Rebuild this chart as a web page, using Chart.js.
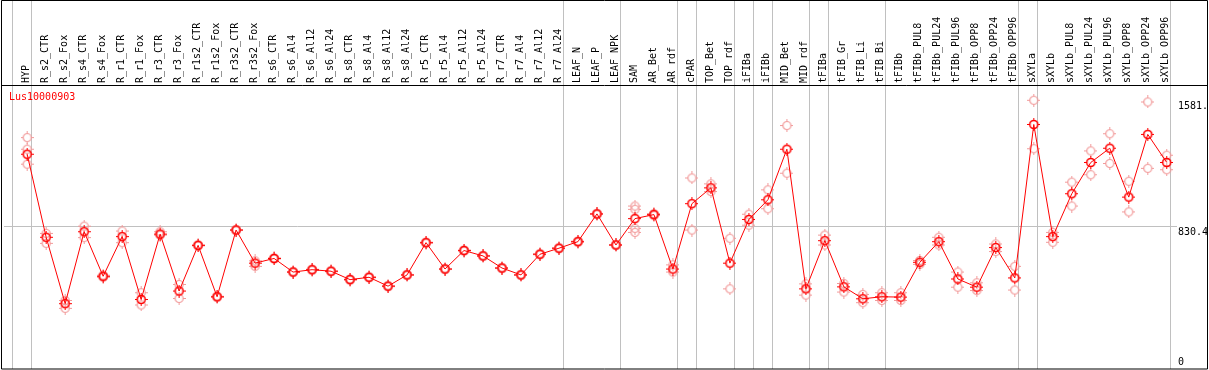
<!DOCTYPE html>
<html>
<head>
<meta charset="utf-8">
<script src="https://cdn.jsdelivr.net/npm/chart.js@4.4.0/dist/chart.umd.min.js"></script>
<style>
    html, body { margin: 0; padding: 0; background: #fff; }
    canvas { display: block; }
</style>
</head>
<body>
<canvas id="myChart" width="1209" height="370"></canvas>
<script>
// chart data
const title = "Lus10000903";

const categories = [
    "HYP",
    "R_s2_CTR", "R_s2_Fox", "R_s4_CTR", "R_s4_Fox", "R_r1_CTR", "R_r1_Fox", "R_r3_CTR", "R_r3_Fox",
    "R_r1s2_CTR", "R_r1s2_Fox", "R_r3s2_CTR", "R_r3s2_Fox",
    "R_s6_CTR", "R_s6_Al4", "R_s6_Al12", "R_s6_Al24", "R_s8_CTR", "R_s8_Al4", "R_s8_Al12", "R_s8_Al24",
    "R_r5_CTR", "R_r5_Al4", "R_r5_Al12", "R_r5_Al24", "R_r7_CTR", "R_r7_Al4", "R_r7_Al12", "R_r7_Al24",
    "LEAF_N", "LEAF_P", "LEAF_NPK",
    "SAM", "AR_Bet", "AR_rdf", "cPAR", "TOP_Bet", "TOP_rdf", "iFIBa", "iFIBb", "MID_Bet", "MID_rdf",
    "tFIBa", "tFIB_Gr", "tFIB_Li", "tFIB_Bi",
    "tFIBb", "tFIBb_PUL8", "tFIBb_PUL24", "tFIBb_PUL96", "tFIBb_OPP8", "tFIBb_OPP24", "tFIBb_OPP96",
    "sXYLa", "sXYLb", "sXYLb_PUL8", "sXYLb_PUL24", "sXYLb_PUL96", "sXYLb_OPP8", "sXYLb_OPP24", "sXYLb_OPP96"
];

const means = [
    1260,
    766, 371, 799, 534, 770, 396, 785, 446,
    718, 412, 809, 612,
    640, 559, 573, 564, 514, 528, 475, 542,
    734, 577, 687, 655, 583, 542, 665, 701,
    740, 905, 720,
    877, 901, 577, 966, 1060, 612, 872, 989, 1290, 459,
    746, 471, 400, 412,
    410, 617, 740, 518, 469, 705, 524,
    1437, 770, 1025, 1211, 1296, 1005, 1378, 1211
];

// two replicates per sample
const repA = [
    1359,
    789, 390, 832, 540, 803, 436, 799, 485,
    721, 415, 812, 626,
    643, 562, 576, 567, 517, 531, 478, 545,
    737, 580, 690, 658, 586, 545, 668, 704,
    743, 908, 723,
    952, 907, 602, 1119, 1084, 760, 903, 1048, 1431, 489,
    779, 491, 426, 436,
    436, 628, 766, 559, 495, 726, 593,
    1581, 795, 1094, 1280, 1382, 1099, 1571, 1254
];

const repB = [
    1201,
    730, 343, 764, 528, 734, 363, 779, 402,
    715, 409, 806, 593,
    637, 556, 570, 561, 511, 525, 472, 539,
    731, 574, 684, 652, 580, 539, 662, 698,
    737, 902, 717,
    795, 895, 559, 809, 1038, 459, 838, 936, 1147, 422,
    720, 440, 377, 390,
    390, 605, 720, 469, 449, 681, 452,
    1293, 736, 952, 1138, 1205, 917, 1176, 1168
];

// samples with more than two replicates
const extraReps = { HYP: [1290], SAM: [932, 819] };

const yTicks = [0, 830.4, 1581];
const yTickLabels = ["0", "830.4", "1581."];

// last sample index of each group (gray separators)
const groupEnds = [-1, 0, 28, 31, 34, 35, 37, 38, 39, 41, 42, 45, 52, 53, 60];
// end of chart data

const monoFont = "DejaVu Sans Mono";

function makeMarker(color, width) {
    const c = document.createElement("canvas");
    c.width = 13;
    c.height = 13;
    const g = c.getContext("2d");
    g.strokeStyle = color;
    g.lineWidth = width;
    g.beginPath();
    g.arc(6.5, 6.5, 4, 0, Math.PI * 2);
    g.stroke();
    g.fillStyle = color;
    g.fillRect(6, 0, 1, 2);
    g.fillRect(6, 11, 1, 2);
    g.fillRect(0, 6, 2, 1);
    g.fillRect(11, 6, 2, 1);
    return c;
}

const meanMarker = makeMarker("#ff0000", 1.6);
const repMarker = makeMarker("#f29a9a", 1.2);

const meanPoints = means.map((v, i) => ({ x: i, y: v }));
const repPoints = [];
categories.forEach((c, i) => {
    [repA[i], repB[i]].concat(extraReps[c] || []).forEach((v) => {
        repPoints.push({ x: i, y: v });
    });
});

// separators, frame, title, value labels
const framePlugin = {
    id: "frame",
    beforeDatasetsDraw(chart) {
        const ctx = chart.ctx;
        const xs = chart.scales.x;
        ctx.save();
        ctx.strokeStyle = "#c0c0c0";
        ctx.lineWidth = 1;
        groupEnds.forEach((g) => {
            const x = Math.round(xs.getPixelForValue(g + 0.19)) + 0.5;
            ctx.beginPath();
            ctx.moveTo(x, 0);
            ctx.lineTo(x, 369);
            ctx.stroke();
        });
        ctx.restore();
    },
    afterDraw(chart) {
        const ctx = chart.ctx;
        const area = chart.chartArea;
        const ys = chart.scales.y;
        ctx.save();
        ctx.strokeStyle = "#000";
        ctx.lineWidth = 1;
        ctx.beginPath();
        ctx.rect(1.5, 0.5, 1206, 368.5);
        ctx.moveTo(1, 85.5);
        ctx.lineTo(1208, 85.5);
        ctx.stroke();

        ctx.font = "10px " + monoFont;
        ctx.textBaseline = "middle";
        ctx.textAlign = "left";
        ctx.fillStyle = "#ff0000";
        ctx.fillText(title, 9, 97);

        ctx.fillStyle = "#000";
        yTicks.forEach((v, i) => {
            const y = Math.min(ys.getPixelForValue(v) + 6, 362);
            ctx.fillText(yTickLabels[i], area.right + 1, y);
        });
        ctx.restore();
    },
};

const ctx = document.getElementById("myChart").getContext("2d");

new Chart(ctx, {
    type: "line",
    data: {
        datasets: [
            {
                label: title,
                data: meanPoints,
                borderColor: "#ff0000",
                borderWidth: 1,
                pointStyle: meanMarker,
                pointRadius: 0.5,
                pointBorderWidth: 0,
                tension: 0,
                fill: false,
            },
            {
                label: "replicates",
                data: repPoints,
                showLine: false,
                borderWidth: 0,
                pointStyle: repMarker,
                pointRadius: 0.5,
                pointBorderWidth: 0,
            },
        ],
    },
    options: {
        responsive: false,
        animation: false,
        devicePixelRatio: 1,
        layout: { padding: { left: 2, right: 0, top: 0, bottom: 1 } },
        plugins: {
            legend: { display: false },
            tooltip: { enabled: false },
        },
        scales: {
            x: {
                type: "linear",
                position: "top",
                bounds: "data",
                min: -1.22,
                max: 60.54,
                border: { display: false },
                grid: { display: false, drawTicks: false },
                afterBuildTicks: (scale) => {
                    scale.ticks = categories.map((c, i) => ({ value: i }));
                },
                afterFit: (scale) => {
                    scale.height = 85;
                    scale.paddingLeft = 0;
                    scale.paddingRight = 0;
                },
                ticks: {
                    autoSkip: false,
                    minRotation: 90,
                    maxRotation: 90,
                    padding: 2,
                    labelOffset: 11,
                    color: "#000",
                    font: { family: monoFont, size: 10 },
                    callback: (value) => categories[value],
                },
            },
            y: {
                type: "linear",
                position: "right",
                bounds: "data",
                min: 0,
                max: 1672,
                border: { display: false },
                afterBuildTicks: (scale) => {
                    scale.ticks = yTicks.map((v) => ({ value: v }));
                },
                afterFit: (scale) => {
                    scale.width = 32;
                    scale.paddingTop = 0;
                    scale.paddingBottom = 0;
                },
                grid: {
                    drawTicks: false,
                    color: (c) => (c.tick && c.tick.value === 830.4 ? "#c0c0c0" : "rgba(0,0,0,0)"),
                },
                ticks: { display: false },
            },
        },
    },
    plugins: [framePlugin],
});
</script>
</body>
</html>
